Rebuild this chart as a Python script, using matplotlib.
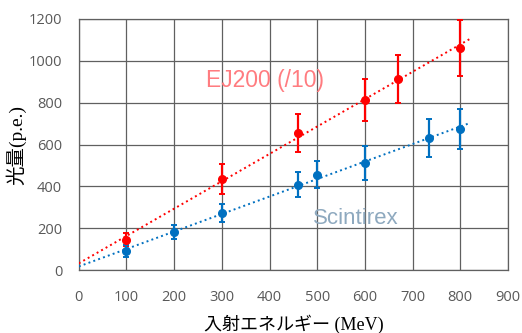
import numpy as np
import matplotlib.pyplot as plt

# EJ200 (/10)
ej_x = [100, 300, 460, 600, 670, 800]
ej_y = [145, 435, 655, 812, 915, 1062]
ej_err = [30, 70, 90, 100, 115, 135]

# Scintirex
sc_x = [100, 200, 300, 460, 500, 600, 735, 800]
sc_y = [90, 182, 273, 407, 455, 512, 632, 675]
sc_err = [28, 35, 45, 60, 65, 80, 90, 95]

X_TICKS = list(range(0, 901, 100))
Y_TICKS = list(range(0, 1201, 200))

RED = '#ff0000'
BLUE = '#0070c0'


def main():
    fig = plt.figure(figsize=(5.22, 3.33), dpi=100)
    ax = fig.add_axes([0.151, 0.189, 0.822, 0.754])

    for xs, ys, es, c in [(ej_x, ej_y, ej_err, RED), (sc_x, sc_y, sc_err, BLUE)]:
        k, b = np.polyfit(xs, ys, 1)
        fx = np.array([0, 820])
        ax.plot(fx, k * fx + b, ':', color=c, lw=1.4, zorder=3)
        ax.errorbar(xs, ys, yerr=es, fmt='o', color=c, ms=5.5, elinewidth=1.6,
                    capsize=2, capthick=1.4, zorder=4)

    ax.set_xlim(0, 900)
    ax.set_ylim(0, 1200)
    ax.set_xticks(X_TICKS)
    ax.set_yticks(Y_TICKS)
    ax.grid(True, color='#606060', lw=0.9)
    ax.set_axisbelow(True)
    for s in ax.spines.values():
        s.set_color('#606060')
        s.set_linewidth(0.9)
    ax.tick_params(length=0, labelsize=10.5, labelcolor='#595959')
    ax.tick_params(axis='x', pad=14)
    ax.tick_params(axis='y', pad=12)
    for lab in ax.get_xticklabels() + ax.get_yticklabels():
        lab.set_family('Open Sans')

    ax.set_xlabel('入射エネルギー (MeV)', fontsize=13,
                  family=['Liberation Serif', 'Noto Sans CJK JP'], labelpad=7)
    ax.set_ylabel('光量(p.e.)', fontsize=14,
                  family=['Liberation Serif', 'Noto Sans CJK JP'], labelpad=2)

    ax.text(390, 905, 'EJ200 (/10)', color='#ff7c80', fontsize=16.5,
            ha='center', va='center', family='Liberation Sans')
    ax.text(581, 245, 'Scintirex', color='#8ea9bf', fontsize=16,
            ha='center', va='center', family='Liberation Sans')

    fig.savefig('out.png', dpi=100)


if __name__ == '__main__':
    main()
